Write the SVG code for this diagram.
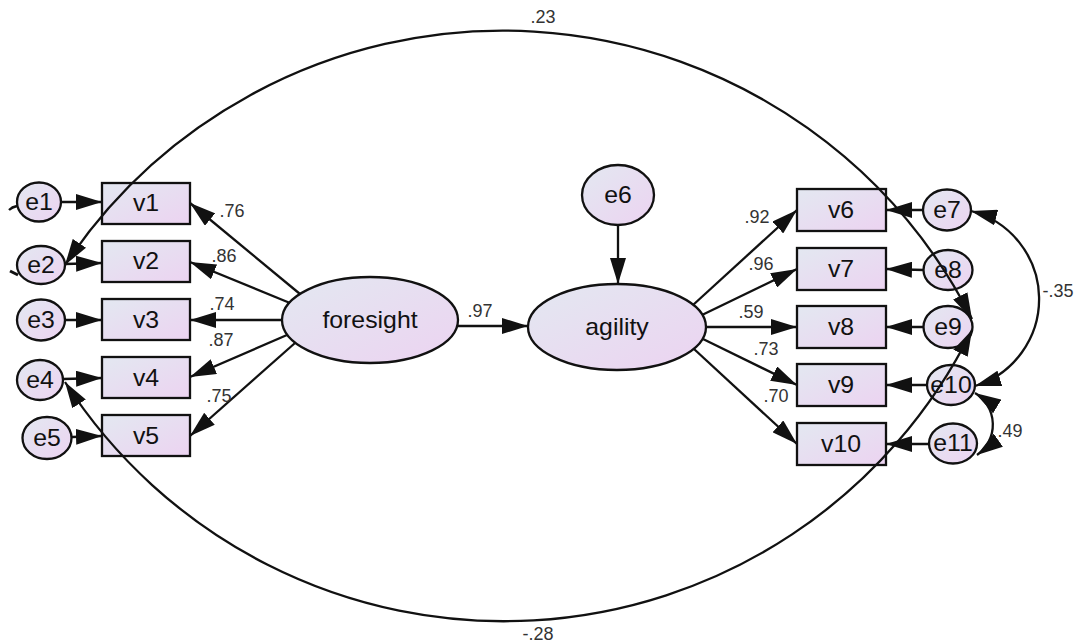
<svg xmlns="http://www.w3.org/2000/svg" width="1077" height="643" viewBox="0 0 1077 643">
<style>
.n rect, .n ellipse { fill: url(#g); stroke: #111; stroke-width: 2.3; }
.t { font-family: "Liberation Sans", Arial, sans-serif; font-size: 23px; fill: #111; text-anchor: middle; }
.num { font-family: "Liberation Sans", Arial, sans-serif; font-size: 18px; fill: #333; text-anchor: middle; }
.c path, .c line { fill: none; stroke: #111; stroke-width: 2.3; }
.a { marker-end: url(#ah); }
.b { marker-start: url(#ah); marker-end: url(#ah); }
</style>
<defs>
<linearGradient id="g" x1="0" y1="0" x2="1" y2="1">
<stop offset="0" stop-color="#e3e8f1"/>
<stop offset="1" stop-color="#ecd3f1"/>
</linearGradient>
<marker id="ah" viewBox="0 0 26 16" refX="26" refY="8" markerWidth="26" markerHeight="16" markerUnits="userSpaceOnUse" orient="auto-start-reverse">
<path d="M0,0 L26,8 L0,16 Z" fill="#111"/>
</marker>
</defs>
<rect width="1077" height="643" fill="#fff"/>

<g id="foresight" class="n"><ellipse cx="370" cy="320" rx="88" ry="43"/><text class="t" transform="translate(370 328) scale(1.08 1)">foresight</text></g>
<g id="agility" class="n"><ellipse cx="617" cy="327" rx="89" ry="43"/><text class="t" transform="translate(617 335) scale(1.08 1)">agility</text></g>
<g id="e6" class="n"><ellipse cx="618" cy="195" rx="36" ry="30"/><text class="t" transform="translate(618 203) scale(1.08 1)">e6</text></g>

<g id="v1" class="n"><rect x="102" y="183" width="88" height="41"/><text class="t" transform="translate(146 211) scale(1.08 1)">v1</text></g>
<g id="v2" class="n"><rect x="102" y="241" width="88" height="41"/><text class="t" transform="translate(146 269) scale(1.08 1)">v2</text></g>
<g id="v3" class="n"><rect x="102" y="299" width="88" height="41"/><text class="t" transform="translate(146 328) scale(1.08 1)">v3</text></g>
<g id="v4" class="n"><rect x="102" y="357" width="88" height="41"/><text class="t" transform="translate(146 386) scale(1.08 1)">v4</text></g>
<g id="v5" class="n"><rect x="102" y="415" width="88" height="41"/><text class="t" transform="translate(146 444) scale(1.08 1)">v5</text></g>

<g id="v6" class="n"><rect x="797" y="189" width="89" height="42"/><text class="t" transform="translate(841 218) scale(1.08 1)">v6</text></g>
<g id="v7" class="n"><rect x="797" y="248" width="89" height="42"/><text class="t" transform="translate(841 277) scale(1.08 1)">v7</text></g>
<g id="v8" class="n"><rect x="797" y="306" width="89" height="42"/><text class="t" transform="translate(841 335) scale(1.08 1)">v8</text></g>
<g id="v9" class="n"><rect x="797" y="364" width="89" height="42"/><text class="t" transform="translate(841 393) scale(1.08 1)">v9</text></g>
<g id="v10" class="n"><rect x="797" y="423" width="89" height="42"/><text class="t" transform="translate(841 452) scale(1.08 1)">v10</text></g>

<g id="e1" class="n"><ellipse cx="39" cy="202" rx="22" ry="19.5"/><text class="t" transform="translate(39 210) scale(1.08 1)">e1</text></g>
<g id="e2" class="n"><ellipse cx="41" cy="265" rx="24" ry="19"/><text class="t" transform="translate(41 273) scale(1.08 1)">e2</text></g>
<g id="e3" class="n"><ellipse cx="41" cy="320" rx="24" ry="20.5"/><text class="t" transform="translate(41 328) scale(1.08 1)">e3</text></g>
<g id="e4" class="n"><ellipse cx="40" cy="380" rx="23" ry="20"/><text class="t" transform="translate(40 388) scale(1.08 1)">e4</text></g>
<g id="e5" class="n"><ellipse cx="47" cy="438" rx="24.5" ry="21"/><text class="t" transform="translate(47 446) scale(1.08 1)">e5</text></g>

<g id="e7" class="n"><ellipse cx="947" cy="210" rx="24" ry="20.5"/><text class="t" transform="translate(947 218) scale(1.08 1)">e7</text></g>
<g id="e8" class="n"><ellipse cx="948" cy="270" rx="24.5" ry="20"/><text class="t" transform="translate(948 278) scale(1.08 1)">e8</text></g>
<g id="e9" class="n"><ellipse cx="948" cy="327" rx="24.5" ry="21"/><text class="t" transform="translate(948 335) scale(1.08 1)">e9</text></g>
<g id="e10" class="n"><ellipse cx="951" cy="385" rx="24" ry="20"/><text class="t" transform="translate(951 393) scale(1.08 1)">e10</text></g>
<g id="e11" class="n"><ellipse cx="953" cy="443.5" rx="24" ry="20"/><text class="t" transform="translate(953 451) scale(1.08 1)">e11</text></g>

<g id="connectors" class="c">
<path class="b" d="M65,265 A526,526 0 0 1 972,319"/>
<path class="b" d="M65,382 A522,522 0 0 0 972,330"/>
<path class="b" d="M971,211 A91,91 0 0 1 975,386"/>
<path class="b" d="M975,393 A37,37 0 0 1 977,455"/>
<line class="a" x1="300" y1="294" x2="190" y2="203"/>
<line class="a" x1="290" y1="303" x2="190" y2="262"/>
<line class="a" x1="282" y1="320" x2="190" y2="320"/>
<line class="a" x1="287" y1="335" x2="190" y2="377"/>
<line class="a" x1="295" y1="343" x2="190" y2="436"/>
<line class="a" x1="458" y1="326" x2="528" y2="326"/>
<line class="a" x1="618" y1="225" x2="618" y2="284"/>
<line class="a" x1="693" y1="305" x2="797" y2="210"/>
<line class="a" x1="702" y1="315" x2="797" y2="269"/>
<line class="a" x1="706" y1="327" x2="797" y2="327"/>
<line class="a" x1="703" y1="339" x2="797" y2="385"/>
<line class="a" x1="694" y1="349" x2="797" y2="444"/>
<line class="a" x1="61" y1="202" x2="102" y2="202"/>
<line class="a" x1="65" y1="264" x2="102" y2="263"/>
<line class="a" x1="65" y1="320" x2="102" y2="320"/>
<line class="a" x1="63" y1="379" x2="102" y2="378"/>
<line class="a" x1="72" y1="437" x2="102" y2="436"/>
<line class="a" x1="923" y1="210" x2="886" y2="210"/>
<line class="a" x1="924" y1="270" x2="886" y2="269"/>
<line class="a" x1="924" y1="327" x2="886" y2="327"/>
<line class="a" x1="927" y1="385" x2="886" y2="385"/>
<line class="a" x1="929" y1="444" x2="886" y2="444"/>
<path d="M9,210 Q12,207 17,206"/>
<path d="M10,271 L18,275" style="stroke-width:3"/>
</g>

<g id="labels">
<text class="num" x="543" y="23">.23</text>
<text class="num" x="538" y="640">-.28</text>
<text class="num" x="232" y="217">.76</text>
<text class="num" x="224" y="262">.86</text>
<text class="num" x="222" y="310">.74</text>
<text class="num" x="221" y="346">.87</text>
<text class="num" x="219" y="402">.75</text>
<text class="num" x="480" y="317">.97</text>
<text class="num" x="757" y="223">.92</text>
<text class="num" x="761" y="270">.96</text>
<text class="num" x="751" y="318">.59</text>
<text class="num" x="766" y="355">.73</text>
<text class="num" x="776" y="402">.70</text>
<text class="num" x="1058" y="297">-.35</text>
<text class="num" x="1010" y="437">.49</text>
</g>
</svg>
